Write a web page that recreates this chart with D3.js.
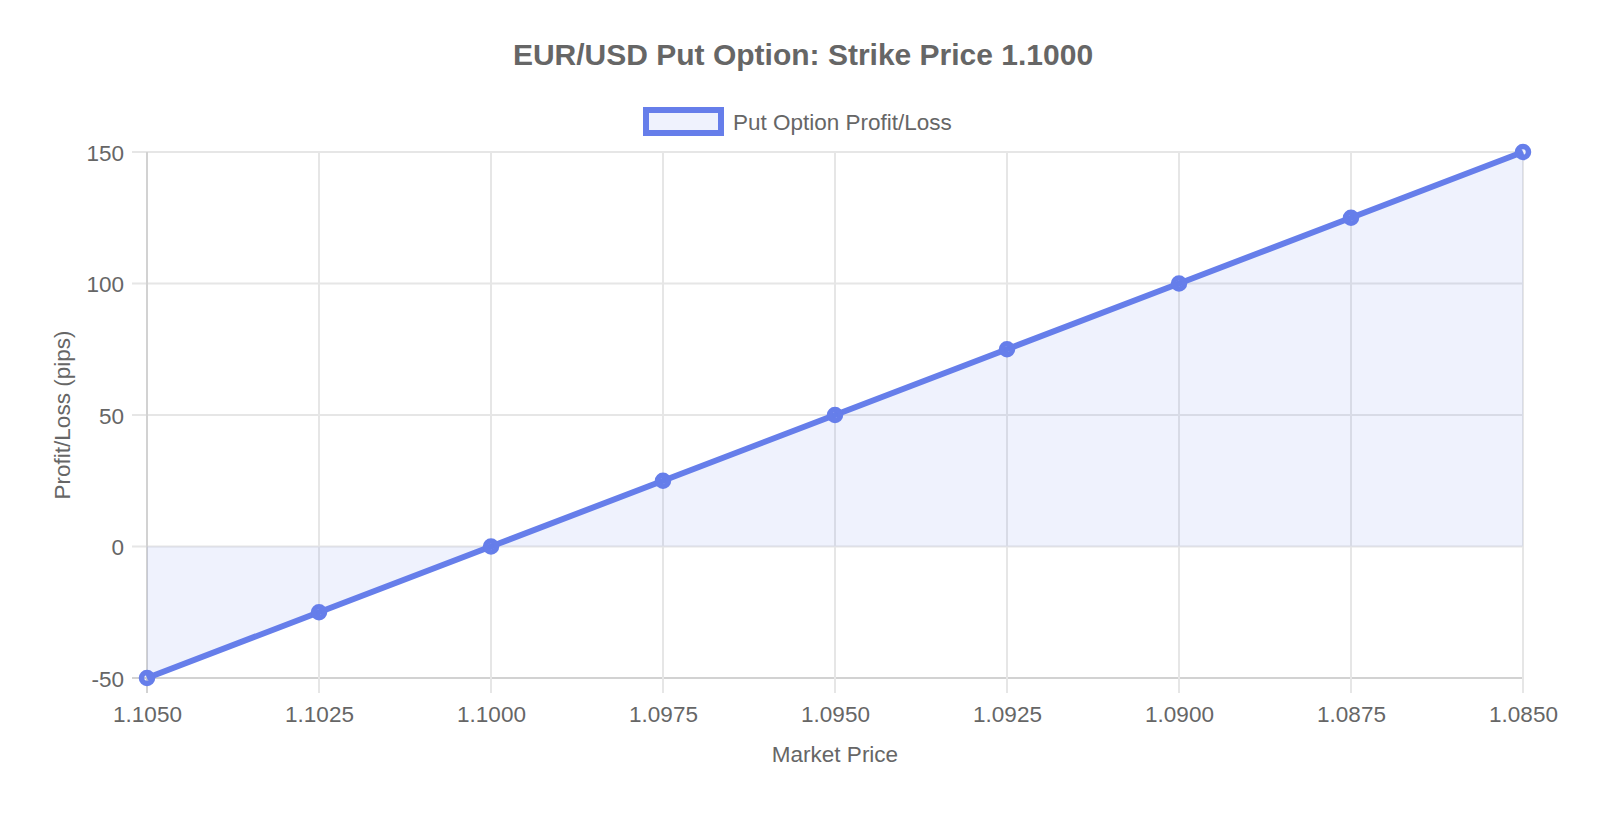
<!DOCTYPE html>
<html>
<head>
<meta charset="utf-8">
<script src="https://cdn.jsdelivr.net/npm/d3@7"></script>
<style>
  body { margin: 0; background: #fff; }
  svg { display: block; font-family: "Liberation Sans", Arial, sans-serif; }
</style>
</head>
<body>
<div id="chart"></div>
<script>
const marketPrices = ['1.1050', '1.1025', '1.1000', '1.0975', '1.0950', '1.0925', '1.0900', '1.0875', '1.0850']
const profitLoss = [-50, -25, 0, 25, 50, 75, 100, 125, 150]
const yTicks = [-50, 0, 50, 100, 150]

const width = 1600
const height = 838
const margin = { top: 152, right: 77, bottom: 160, left: 147 }
const lineColor = '#667eea'
const fillColor = 'rgba(102,126,234,0.1)'
const textColor = '#666'
const fontSize = '22.5px'

const data = marketPrices.map((p, i) => ({ price: p, value: profitLoss[i] }))

const svg = d3
  .select('#chart')
  .append('svg')
  .attr('width', width)
  .attr('height', height)

const x = d3
  .scalePoint()
  .domain(marketPrices)
  .range([margin.left, width - margin.right])

const y = d3
  .scaleLinear()
  .domain([-50, 150])
  .range([height - margin.bottom, margin.top])

// grid, with ticks sticking out past the axes
const grid = svg.append('g')
grid
  .selectAll('line.h')
  .data(yTicks)
  .join('line')
  .attr('x1', margin.left - 15)
  .attr('x2', width - margin.right)
  .attr('y1', d => y(d))
  .attr('y2', d => y(d))
  .attr('stroke', d => (d === -50 ? '#d2d2d2' : '#e6e6e6'))
  .attr('stroke-width', 2)

grid
  .selectAll('line.v')
  .data(marketPrices)
  .join('line')
  .attr('x1', d => x(d))
  .attr('x2', d => x(d))
  .attr('y1', margin.top)
  .attr('y2', height - margin.bottom + 15)
  .attr('stroke', (d, i) => (i === 0 ? '#d2d2d2' : '#e6e6e6'))
  .attr('stroke-width', 2)

const yAxis = g =>
  g
    .attr('transform', `translate(${margin.left - 23}, 0)`)
    .call(d3.axisLeft(y).tickValues(yTicks).tickSize(0).tickPadding(0).tickFormat(d => String(d)))
    .call(g => g.select('.domain').remove())
    .call(g =>
      g.selectAll('text')
        .attr('fill', textColor)
        .attr('dy', '0.36em')
        .style('font-size', fontSize)
        .attr('font-family', null)
    )

const xAxis = g =>
  g
    .attr('transform', `translate(0, ${height - margin.bottom + 44})`)
    .call(d3.axisBottom(x).tickSize(0).tickPadding(0))
    .call(g => g.select('.domain').remove())
    .call(g =>
      g.selectAll('text')
        .attr('fill', textColor)
        .attr('dy', 0)
        .style('font-size', fontSize)
        .attr('font-family', null)
    )

svg.append('g').call(yAxis)
svg.append('g').call(xAxis)

// area filled to the zero line
const area = d3
  .area()
  .x(d => x(d.price))
  .y0(y(0))
  .y1(d => y(d.value))

svg
  .append('path')
  .datum(data)
  .attr('d', area)
  .attr('fill', fillColor)

const line = d3
  .line()
  .x(d => x(d.price))
  .y(d => y(d.value))

svg
  .append('path')
  .datum(data)
  .attr('d', line)
  .attr('fill', 'none')
  .attr('stroke', lineColor)
  .attr('stroke-width', 6)

svg
  .append('g')
  .selectAll('circle')
  .data(data)
  .join('circle')
  .attr('cx', d => x(d.price))
  .attr('cy', d => y(d.value))
  .attr('r', 5.5)
  .attr('fill', fillColor)
  .attr('stroke', lineColor)
  .attr('stroke-width', 5.5)

// title
svg
  .append('text')
  .attr('x', 803)
  .attr('y', 65)
  .attr('text-anchor', 'middle')
  .attr('fill', textColor)
  .style('font-size', '30px')
  .style('font-weight', 'bold')
  .text('EUR/USD Put Option: Strike Price 1.1000')

// legend
const legend = svg.append('g')
legend
  .append('rect')
  .attr('x', 646)
  .attr('y', 110)
  .attr('width', 75)
  .attr('height', 23)
  .attr('fill', fillColor)
  .attr('stroke', lineColor)
  .attr('stroke-width', 6)
legend
  .append('text')
  .attr('x', 733)
  .attr('y', 130)
  .attr('fill', textColor)
  .style('font-size', fontSize)
  .text('Put Option Profit/Loss')

// axis titles
svg
  .append('text')
  .attr('x', (margin.left + width - margin.right) / 2)
  .attr('y', 762)
  .attr('text-anchor', 'middle')
  .attr('fill', textColor)
  .style('font-size', fontSize)
  .text('Market Price')

svg
  .append('text')
  .attr('transform', `translate(70, ${(y(-50) + y(150)) / 2}) rotate(-90)`)
  .attr('text-anchor', 'middle')
  .attr('fill', textColor)
  .style('font-size', fontSize)
  .text('Profit/Loss (pips)')
</script>
</body>
</html>
